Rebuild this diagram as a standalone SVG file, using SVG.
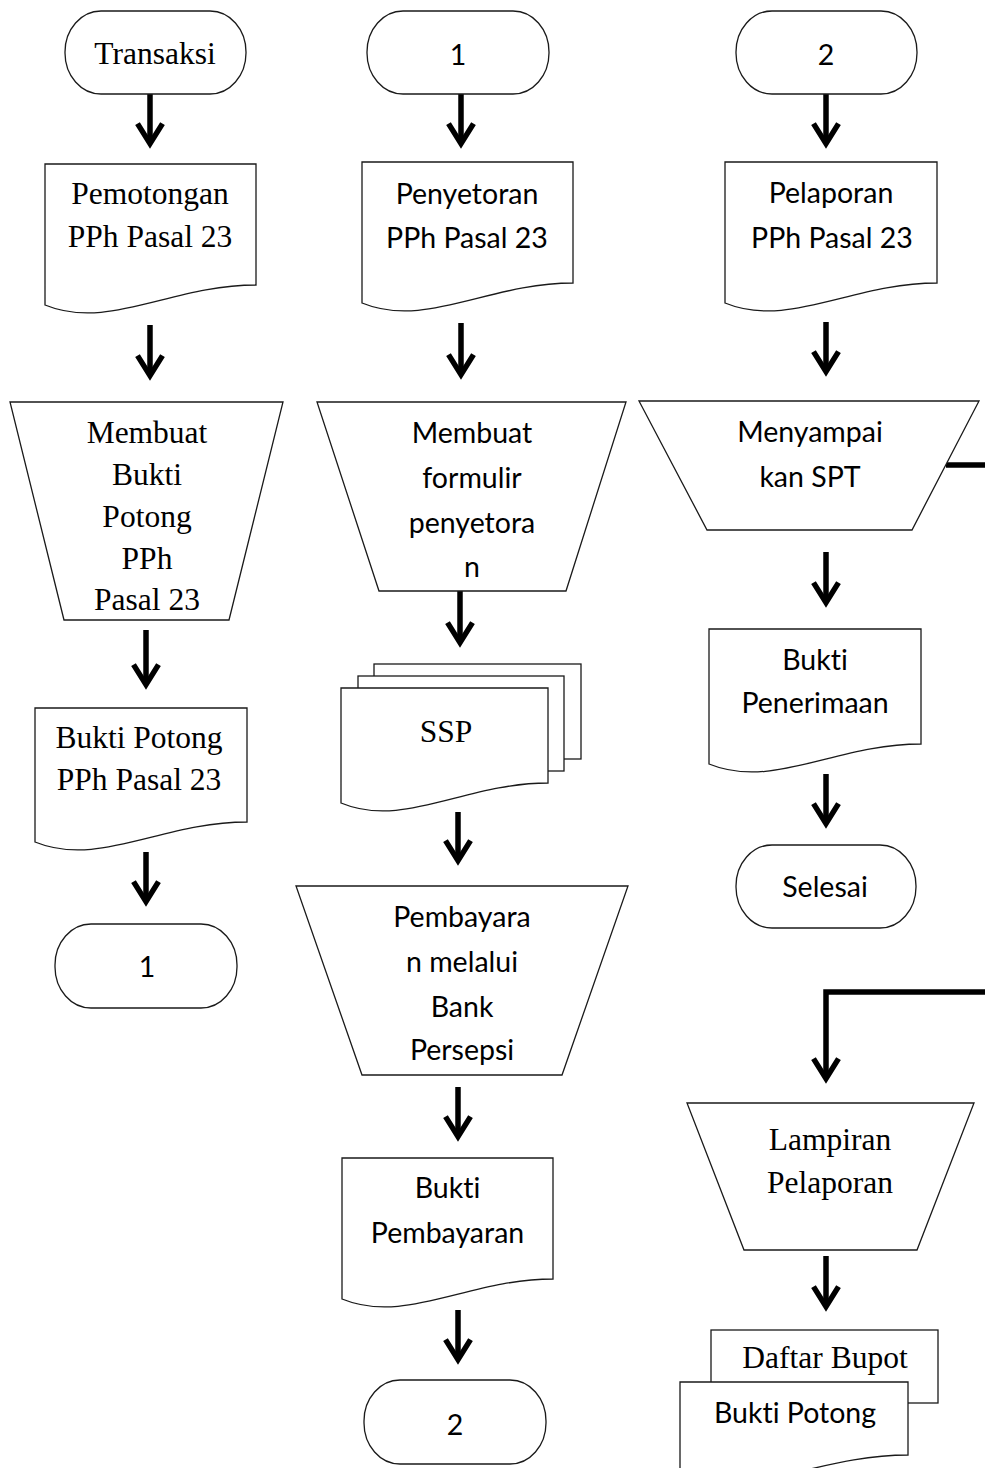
<svg xmlns="http://www.w3.org/2000/svg" width="985" height="1468" viewBox="0 0 985 1468">
<style>
.shape{fill:#fff;stroke:#1a1a1a;stroke-width:1.3}
.tnr{font-family:"Liberation Serif","Times New Roman",serif;font-size:31.5px;text-anchor:middle;fill:#000;font-variant-ligatures:none}
.cal{font-family:Lato,"Open Sans",sans-serif;font-size:28.5px;text-anchor:middle;fill:#000;font-variant-ligatures:none;font-feature-settings:"liga" 0,"dlig" 0}
.arrow{fill:none;stroke:#000;stroke-width:5.5}
</style>
<defs>
<marker id="ah" markerUnits="userSpaceOnUse" viewBox="-30 -20 40 40" markerWidth="40" markerHeight="40" refX="0" refY="0" orient="auto" overflow="visible">
<path d="M-20.4 -12.5 L-0.4 0 L-20.4 12.5" fill="none" stroke="#000" stroke-width="5.5"/>
</marker>
</defs>
<rect width="985" height="1468" fill="#fff"/>

<g id="connectors">
<path class="arrow" marker-end="url(#ah)" d="M150 94 V144"/>
<path class="arrow" marker-end="url(#ah)" d="M150 325 V376"/>
<path class="arrow" marker-end="url(#ah)" d="M146 630 V685"/>
<path class="arrow" marker-end="url(#ah)" d="M146 852 V902"/>
<path class="arrow" marker-end="url(#ah)" d="M461 94 V144"/>
<path class="arrow" marker-end="url(#ah)" d="M461 323 V375"/>
<path class="arrow" marker-end="url(#ah)" d="M460 591 V643"/>
<path class="arrow" marker-end="url(#ah)" d="M458 812 V861"/>
<path class="arrow" marker-end="url(#ah)" d="M458 1087 V1137"/>
<path class="arrow" marker-end="url(#ah)" d="M458 1310 V1360"/>
<path class="arrow" marker-end="url(#ah)" d="M826 94 V144"/>
<path class="arrow" marker-end="url(#ah)" d="M826 322 V372"/>
<path class="arrow" marker-end="url(#ah)" d="M826 552 V603"/>
<path class="arrow" marker-end="url(#ah)" d="M826 774 V824"/>
<path class="arrow" marker-end="url(#ah)" d="M946 465 H995 V992 H826 V1079"/>
<path class="arrow" marker-end="url(#ah)" d="M826 1256 V1307"/>
</g>

<g id="transaksi">
<rect class="shape" x="65" y="11" width="181" height="83" rx="36" ry="41"/>
<text class="tnr" x="155" y="64">Transaksi</text>
</g>
<g id="pemotongan">
<path class="shape" d="M45 164 H256 V285 C171.6 285 108.3 331 45 305 Z"/>
<text class="tnr" x="150" y="204">Pemotongan</text>
<text class="tnr" x="150" y="247">PPh Pasal 23</text>
</g>
<g id="membuat-bukti">
<path class="shape" d="M10 402 H283 L229 620 H64 Z"/>
<text class="tnr" x="147" y="443">Membuat</text>
<text class="tnr" x="147" y="485">Bukti</text>
<text class="tnr" x="147" y="527">Potong</text>
<text class="tnr" x="147" y="569">PPh</text>
<text class="tnr" x="147" y="610">Pasal 23</text>
</g>
<g id="bukti-potong-1">
<path class="shape" d="M35 708 H247 V822 C162.2 822 98.6 868 35 842 Z"/>
<text class="tnr" x="139" y="748">Bukti Potong</text>
<text class="tnr" x="139" y="790">PPh Pasal 23</text>
</g>
<g id="off-1">
<rect class="shape" x="55" y="924" width="182" height="84" rx="36" ry="41"/>
<text class="cal" x="147" y="977">1</text>
</g>

<g id="on-1">
<rect class="shape" x="367" y="11" width="182" height="83" rx="36" ry="41"/>
<text class="cal" x="458" y="65">1</text>
</g>
<g id="penyetoran">
<path class="shape" d="M362 162 H573 V283 C488.6 283 425.3 329 362 303 Z"/>
<text class="cal" x="467" y="204">Penyetoran</text>
<text class="cal" x="467" y="248">PPh Pasal 23</text>
</g>
<g id="membuat-formulir">
<path class="shape" d="M317 402 H626 L566 591 H379 Z"/>
<text class="cal" x="472" y="443">Membuat</text>
<text class="cal" x="472" y="488">formulir</text>
<text class="cal" x="472" y="533">penyetora</text>
<text class="cal" x="472" y="577">n</text>
</g>
<g id="ssp">
<rect class="shape" x="374" y="664" width="207" height="95"/>
<rect class="shape" x="358" y="676" width="206" height="95"/>
<path class="shape" d="M341 688 H548 V783 C465.2 783 403.1 829 341 803 Z"/>
<text class="tnr" x="446" y="742">SSP</text>
</g>
<g id="pembayaran">
<path class="shape" d="M296 886 H628 L562 1075 H362 Z"/>
<text class="cal" x="462" y="927">Pembayara</text>
<text class="cal" x="462" y="972">n melalui</text>
<text class="cal" x="462" y="1017">Bank</text>
<text class="cal" x="462" y="1060">Persepsi</text>
</g>
<g id="bukti-pembayaran">
<path class="shape" d="M342 1158 H553 V1279 C468.6 1279 405.3 1325 342 1299 Z"/>
<text class="cal" x="447.5" y="1198">Bukti</text>
<text class="cal" x="447.5" y="1243">Pembayaran</text>
</g>
<g id="off-2">
<rect class="shape" x="364" y="1380" width="182" height="84" rx="36" ry="41"/>
<text class="cal" x="455" y="1435">2</text>
</g>

<g id="on-2">
<rect class="shape" x="736" y="11" width="181" height="83" rx="36" ry="41"/>
<text class="cal" x="826" y="65">2</text>
</g>
<g id="pelaporan">
<path class="shape" d="M725 162 H937 V283 C852.2 283 788.6 329 725 303 Z"/>
<text class="cal" x="831" y="203">Pelaporan</text>
<text class="cal" x="832" y="248">PPh Pasal 23</text>
</g>
<g id="menyampaikan">
<path class="shape" d="M639 401 H979 L912 530 H707 Z"/>
<text class="cal" x="810" y="442">Menyampai</text>
<text class="cal" x="810" y="487">kan SPT</text>
</g>
<g id="bukti-penerimaan">
<path class="shape" d="M709 629 H921 V744 C836.2 744 772.6 790 709 764 Z"/>
<text class="cal" x="815" y="670">Bukti</text>
<text class="cal" x="815" y="713">Penerimaan</text>
</g>
<g id="selesai">
<rect class="shape" x="736" y="845" width="180" height="83" rx="36" ry="41"/>
<text class="cal" x="825" y="897">Selesai</text>
</g>
<g id="lampiran">
<path class="shape" d="M687 1103 H974 L917 1250 H744 Z"/>
<text class="tnr" x="830" y="1150">Lampiran</text>
<text class="tnr" x="830" y="1193">Pelaporan</text>
</g>
<g id="daftar-bupot">
<rect class="shape" x="711" y="1330" width="227" height="73"/>
<text class="tnr" x="825" y="1368">Daftar Bupot</text>
</g>
<g id="bukti-potong-2">
<path class="shape" d="M680 1382 H908 V1455 C816.8 1455 748.4 1501 680 1475 Z"/>
<text class="cal" x="795" y="1423">Bukti Potong</text>
</g>
</svg>
